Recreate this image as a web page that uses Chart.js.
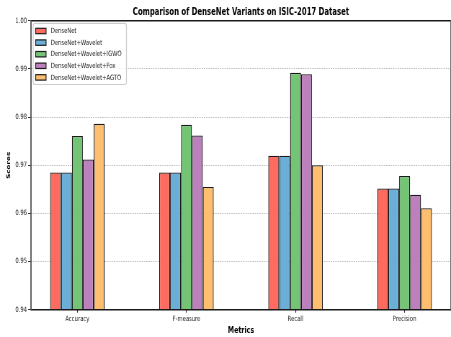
<!DOCTYPE html>
<html>
<head>
<meta charset="utf-8">
<script src="https://cdn.jsdelivr.net/npm/chart.js@4.4.1/dist/chart.umd.min.js"></script>
<style>
html,body{margin:0;padding:0;background:#fff;overflow:hidden;width:451px;height:337px;}
#wrap{width:626px;height:337px;transform:scaleX(0.7204);transform-origin:0 0;}
canvas{display:block;}
</style>
</head>
<body>
<div id="wrap"><canvas id="c" width="626" height="337"></canvas></div>
<script>
const categories = ['Accuracy', 'F-measure', 'Recall', 'Precision'];
const seriesNames = ['DenseNet', 'DenseNet+Wavelet', 'DenseNet+Wavelet+IGWO', 'DenseNet+Wavelet+Fox', 'DenseNet+Wavelet+AGTO'];
const denseNet      = [0.9685, 0.9685, 0.9720, 0.9652];
const denseWavelet  = [0.9685, 0.9685, 0.9720, 0.9652];
const denseIGWO     = [0.9761, 0.9784, 0.9892, 0.9678];
const denseFox      = [0.9712, 0.9762, 0.9889, 0.9639];
const denseAGTO     = [0.9786, 0.9655, 0.9700, 0.9611];
const yTicks = [0.94, 0.95, 0.96, 0.97, 0.98, 0.99, 1.00];
const colors = ['#FF6B5F', '#6BAED6', '#74C476', '#BC80BD', '#FDBF6F'];
const allSeries = [denseNet, denseWavelet, denseIGWO, denseFox, denseAGTO];

const FONT = "'DejaVu Sans', sans-serif";

const datasets = allSeries.map((vals, i) => ({
  label: seriesNames[i],
  data: vals.map((v, j) => ({x: j, y: v})),
  backgroundColor: colors[i],
  borderColor: '#1a1a1a',
  borderWidth: 1.3,
  borderSkipped: false,
  categoryPercentage: 0.5,
  barPercentage: 1.0
}));

const spines = {
  id: 'spines',
  afterDraw(chart) {
    const {ctx, chartArea: a} = chart;
    ctx.save();
    ctx.strokeStyle = '#1a1a1a';
    ctx.lineWidth = 1.5;
    ctx.beginPath();
    ctx.moveTo(a.left, a.top); ctx.lineTo(a.right, a.top);
    ctx.moveTo(a.left, a.bottom); ctx.lineTo(a.right, a.bottom);
    ctx.stroke();
    ctx.lineWidth = 1.8;
    ctx.strokeStyle = '#555';
    ctx.beginPath();
    ctx.moveTo(a.left, a.top - 0.75); ctx.lineTo(a.left, a.bottom + 0.75);
    ctx.moveTo(a.right, a.top - 0.75); ctx.lineTo(a.right, a.bottom + 0.75);
    ctx.stroke();
    ctx.restore();
  }
};

const boxLegend = {
  id: 'boxLegend',
  afterDraw(chart) {
    const {ctx} = chart;
    const x0 = 46, y0 = 23.3, w = 129.5, h = 61.2;
    ctx.save();
    ctx.fillStyle = 'rgba(255,255,255,0.85)';
    ctx.strokeStyle = '#cccccc';
    ctx.lineWidth = 1.2;
    ctx.beginPath();
    ctx.roundRect(x0, y0, w, h, 2.5);
    ctx.fill();
    ctx.stroke();
    ctx.font = '7.3px ' + FONT;
    ctx.textBaseline = 'middle';
    ctx.textAlign = 'left';
    chart.data.datasets.forEach((ds, i) => {
      const cy = 31 + i * 11.6;
      ctx.fillStyle = ds.backgroundColor;
      ctx.strokeStyle = '#1a1a1a';
      ctx.lineWidth = 1.2;
      ctx.fillRect(49.5, cy - 2.7, 14.4, 5.4);
      ctx.strokeRect(49.5, cy - 2.7, 14.4, 5.4);
      ctx.fillStyle = '#222';
      ctx.fillText(ds.label, 70.4, cy + 0.3);
    });
    ctx.restore();
  }
};

new Chart(document.getElementById('c'), {
  type: 'bar',
  data: { datasets },
  plugins: [spines, boxLegend],
  options: {
    responsive: false,
    animation: false,
    devicePixelRatio: 1,
    layout: { padding: 0 },
    plugins: {
      legend: { display: false },
      tooltip: { enabled: false },
      title: {
        display: true,
        text: 'Comparison of DenseNet Variants on ISIC-2017 Dataset',
        fullSize: false,
        color: '#000',
        font: { family: FONT, size: 9.6, weight: 'bold' },
        padding: { top: 7, bottom: 2.3 }
      }
    },
    scales: {
      x: {
        type: 'linear',
        min: -0.425,
        max: 3.425,
        offset: false,
        afterBuildTicks(scale) { scale.ticks = categories.map((c, i) => ({value: i})); },
        afterFit(scale) { scale.height = 27.25; },
        ticks: {
          callback: (v) => categories[v],
          color: '#222',
          font: { family: FONT, size: 7.3 },
          padding: 2,
          maxRotation: 0,
          autoSkip: false
        },
        grid: { display: true, offset: false, drawOnChartArea: false, drawTicks: true, tickLength: 3, tickColor: '#333', tickWidth: 1.2 },
        border: { display: false },
        title: {
          display: true, text: 'Metrics', color: '#000',
          font: { family: FONT, size: 8.7, weight: 'bold' },
          padding: { top: 0, bottom: 0.8 }
        }
      },
      y: {
        min: 0.94,
        max: 1.00,
        z: 1,
        afterBuildTicks(scale) { scale.ticks = yTicks.map(v => ({value: v})); },
        afterFit(scale) { scale.width = 43; },
        ticks: {
          callback: (v) => Number(v).toFixed(2),
          color: '#222',
          font: { family: FONT, size: 7.3 },
          padding: 1.5
        },
        grid: {
          color: 'rgba(0,0,0,0.3)',
          lineWidth: 0.9,
          drawTicks: true,
          tickLength: 4,
          tickColor: '#333',
          tickWidth: 1,
          tickBorderDash: []
        },
        border: { display: false, dash: [1.8, 1.4] },
        title: {
          display: true, text: 'Scores', color: '#000',
          font: { family: FONT, size: 7.2, weight: 'bold' },
          padding: { top: 7.5, bottom: 0 }
        }
      }
    }
  }
});
</script>
</body>
</html>
